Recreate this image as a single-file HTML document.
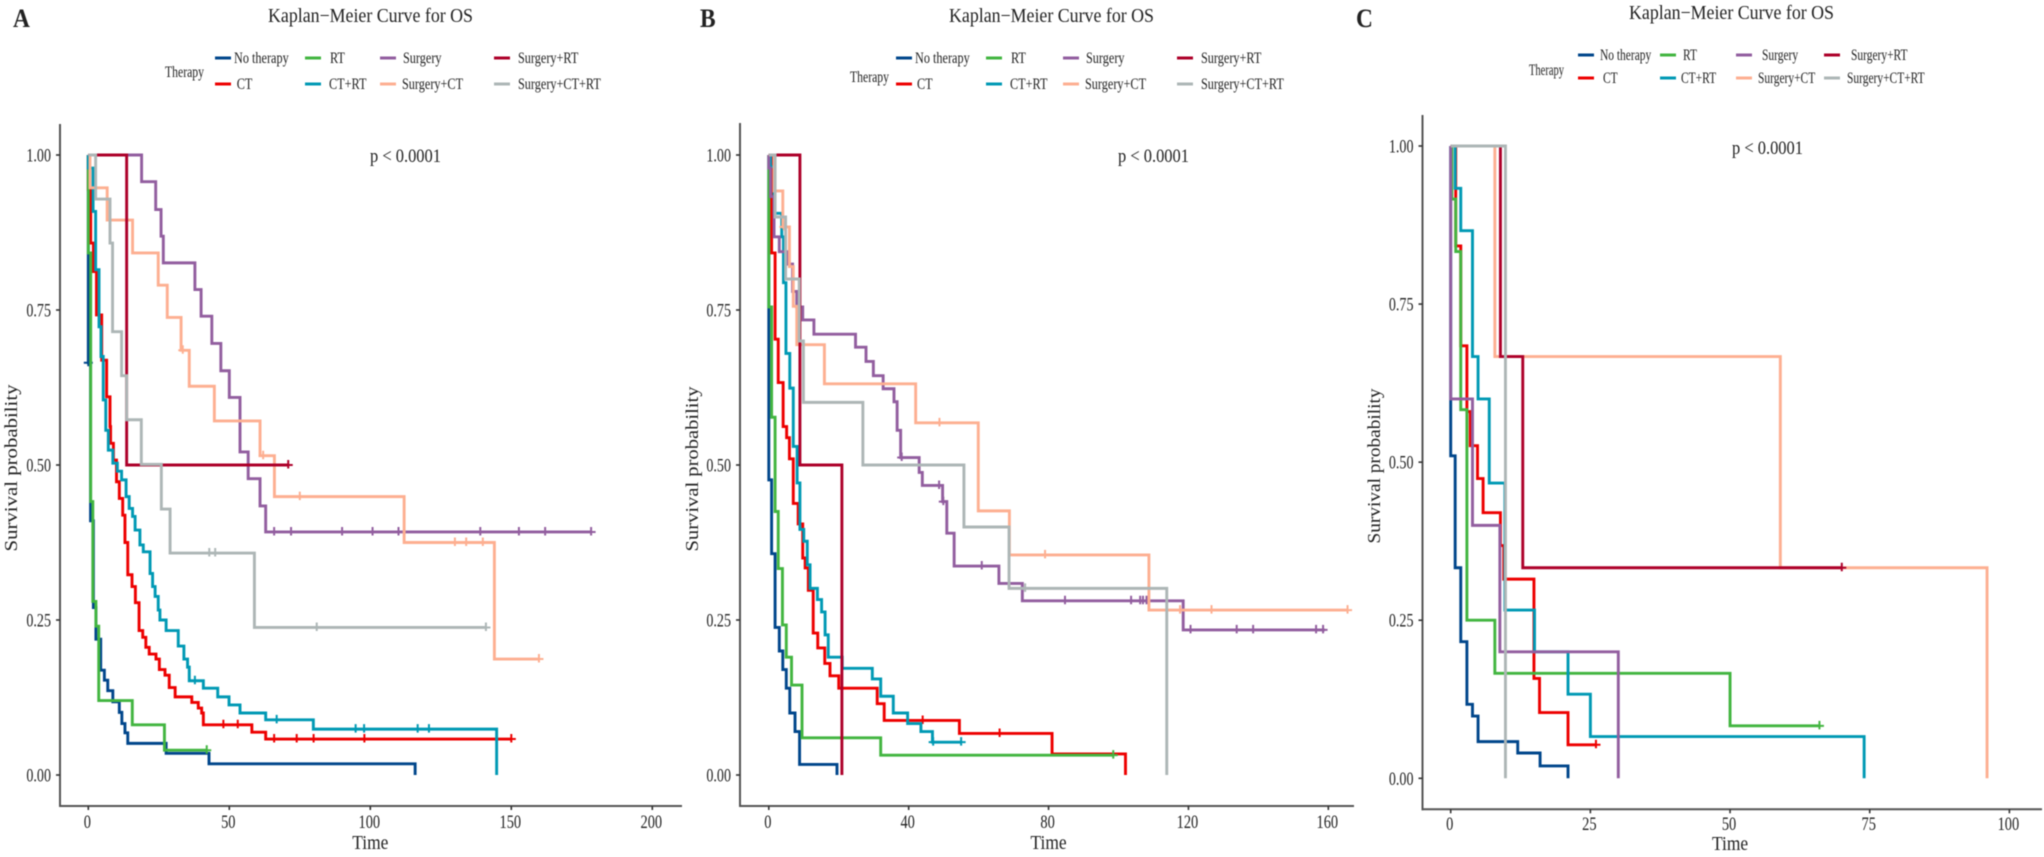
<!DOCTYPE html>
<html lang="en">
<head>
<meta charset="utf-8">
<title>Kaplan-Meier Curves for OS</title>
<style>
html,body{margin:0;padding:0;background:#fff;width:2044px;height:857px;overflow:hidden}
svg{display:block;filter:blur(0.6px)}
text{font-family:"Liberation Serif","Noto Serif CJK SC",serif;fill:#222}
</style>
</head>
<body>
<svg id="figure" xmlns="http://www.w3.org/2000/svg" width="2044" height="857" viewBox="0 0 2044 857"></svg>
<script>
/* ---------- shared labels ---------- */
const therapyLabels = ['No therapy','CT','RT','CT+RT','Surgery','Surgery+CT','Surgery+RT','Surgery+CT+RT'];
const therapyColors = ['#00468B','#ED0000','#42B540','#0099B4','#925E9F','#FDAF91','#AD002A','#ADB6B6'];
const yTickLabels = ['0.00','0.25','0.50','0.75','1.00'];
const yTickValues = [0,0.25,0.5,0.75,1];
const xTicksA = [0,50,100,150,200];
const xTicksB = [0,40,80,120,160];
const xTicksC = [0,25,50,75,100];

/* ---------- panel A ---------- */
const aNoTherapyT = [0,.8,1.8,2.7,4.4,5.7,6.9,8.7,11,11.9,13,14,27.6,42.8,115.9];
const aNoTherapyS = [.665,.41,.27,.219,.169,.153,.136,.118,.101,.083,.068,.051,.035,.018,0];
const aNoTherapyC = [0];
const aCtT = [0,.85,1.8,2.9,4.75,6.5,7.7,7.9,8.9,10,11,12.2,13,14,15.5,16.7,18,19.3,20.4,21.6,24,25.2,27.2,28.7,30.8,36.7,39,40.2,40.8,58,62.9,150];
const aCtS = [.944,.858,.812,.742,.669,.61,.562,.535,.508,.473,.446,.419,.375,.323,.304,.278,.233,.222,.206,.195,.187,.17,.161,.141,.126,.117,.108,.10,.081,.069,.058,.058];
const aCtC = [47.9,53,65.9,73.9,79.9,97.9,150];
const aRtT = [0,.85,1.6,2.7,3.7,15.6,27,42];
const aRtS = [.842,.441,.28,.24,.12,.081,.04,.04];
const aRtC = [42];
const aCtRtT = [0,1.7,2.6,3.8,4.5,5.3,6.2,7.1,8.7,10.3,11.8,13.4,14.5,15.7,16.6,18.3,19.5,21.9,22.8,23.7,24.8,25.4,27.6,31.9,33.9,35.2,35.8,40.8,45.9,49.9,53.8,62.9,79.8,144.8];
const aCtRtS = [.979,.909,.815,.723,.675,.605,.556,.524,.503,.49,.476,.449,.43,.417,.395,.371,.36,.325,.304,.288,.266,.25,.233,.208,.187,.174,.152,.14,.126,.113,.10,.089,.074,0];
const aCtRtC = [37.8,66.8,94.8,97.8,116.8,120.8];
const aSurgeryT = [18.9,23.9,25.8,26.6,37.8,40,43.8,47,50,53.8,56.7,60.9,62.9,178.3];
const aSurgeryS = [.957,.912,.869,.826,.783,.74,.696,.652,.609,.521,.478,.434,.392,.392];
const aSurgeryC = [65.9,71.9,90,100.8,110,139,152.7,162,178.3];
const aSurgCtT = [.6,6.7,15.7,24.8,28,32.9,35.8,44.7,60.9,66,112,144,159.8];
const aSurgCtS = [.947,.895,.842,.79,.738,.685,.627,.571,.515,.449,.375,.187,.187];
const aSurgCtC = [33.5,62,75,130,134,139.9,159.8];
const aSurgRtT = [13.6,70.9];
const aSurgRtS = [.5,.5];
const aSurgRtC = [70.9];
const aSurgCtRtT = [2.6,7.7,8.6,11.8,13.6,18.8,25.9,29,58.9,141];
const aSurgCtRtS = [.929,.858,.715,.644,.573,.501,.429,.358,.238,.238];
const aSurgCtRtC = [42.9,45,81,141];

/* ---------- panel B ---------- */
const bNoTherapyT = [0,.8,1.8,3,4,5,6,7.5,8.8,19.5];
const bNoTherapyS = [.476,.357,.238,.20,.17,.14,.10,.07,.017,0];
const bNoTherapyC = [];
const bCtT = [.8,1.8,2.7,4.1,5.1,5.9,7,8.4,9.7,10.4,11.3,12.7,14,16,17.5,20,31,33,54.5,81,102];
const bCtS = [.842,.703,.633,.562,.544,.51,.438,.405,.35,.334,.298,.229,.205,.18,.16,.14,.115,.088,.067,.034,0];
const bCtC = [44,66];
const bRtT = [0,.8,1.8,2.7,3.9,5,6.5,9.5,32,98.5];
const bRtS = [.755,.577,.425,.333,.242,.19,.145,.06,.032,.032];
const bRtC = [98.5];
const bCtRtT = [.5,1.5,3.7,4.2,4.9,6,7,8.1,8.9,10,11,11.8,13.9,15.1,16.1,17,21,29.6,32,35.6,39.7,43.5,46.8,55];
const bCtRtS = [.981,.906,.868,.794,.68,.624,.53,.471,.396,.377,.339,.301,.283,.263,.226,.19,.172,.155,.127,.10,.083,.07,.053,.053];
const bCtRtC = [47,55];
const bSurgeryT = [0,.5,1.5,3,5.6,6.8,8,9.7,12.9,24.8,27.8,29.9,32.7,35.8,36.7,37.7,43,43.9,49.7,50.9,53,65.8,72.5,118.5,159];
const bSurgeryS = [.979,.933,.868,.844,.824,.78,.755,.734,.711,.69,.667,.644,.623,.602,.556,.512,.488,.467,.441,.39,.337,.309,.281,.234,.234];
const bSurgeryC = [38,48.7,49.9,60.9,84.7,103.6,106.2,107,108,120.6,133.8,138.5,156.5,158.5];
const bSurgCtT = [1.5,4,5.9,7,8,15.9,42,59.9,68.8,108.7,165.5];
const bSurgCtS = [.942,.884,.82,.756,.694,.631,.568,.426,.355,.266,.266];
const bSurgCtC = [4.3,48.8,79,117.6,126.6,165.5];
const bSurgRtT = [8.9,20.9];
const bSurgRtS = [.5,0];
const bSurgRtC = [];
const bSurgCtRtT = [1.8,4.8,8.7,9.9,26.9,55.8,68.7,113.8];
const bSurgCtRtS = [.9,.8,.7,.601,.5,.4,.301,0];
const bSurgCtRtC = [73.3];

/* ---------- panel C ---------- */
const cNoTherapyT = [0,.8,1.8,2.9,3.9,4.9,12,16,21];
const cNoTherapyS = [.51,.333,.216,.117,.0985,.058,.04,.0195,0];
const cNoTherapyC = [];
const cCtT = [.9,1.8,2.9,3.5,4.8,5.8,8.9,9.5,14.9,15.9,21,26];
const cCtS = [.842,.684,.58,.526,.474,.42,.368,.315,.158,.104,.053,.053];
const cCtC = [26];
const cRtT = [.2,.9,1.8,2.9,7.9,50,66];
const cRtS = [.916,.833,.583,.25,.166,.083,.083];
const cRtC = [66];
const cCtRtT = [.8,1.8,3.9,4.9,6.9,9.7,15,21,25,74];
const cCtRtS = [.933,.866,.667,.6,.467,.266,.2,.133,.066,0];
const cCtRtC = [];
const cSurgeryT = [0,3.9,8.8,30];
const cSurgeryS = [.6,.4,.2,0];
const cSurgeryC = [];
const cSurgCtT = [7.9,59,96];
const cSurgCtS = [.667,.333,0];
const cSurgCtC = [];
const cSurgRtT = [8.9,12.9,70];
const cSurgRtS = [.667,.333,.333];
const cSurgRtC = [70];
const cSurgCtRtT = [9.8];
const cSurgCtRtS = [0];
const cSurgCtRtC = [];

/* ---------- drawing ---------- */
const NS = 'http://www.w3.org/2000/svg';
const root = document.getElementById('figure');

function slug(s){ return s.toLowerCase().replace(/\+/g,'-plus-').replace(/\s+/g,'-'); }

function addText(parent, name, x, y, str, size, anchor, sx, width){
  const el = document.createElementNS(NS,'text');
  
  
  el.setAttribute('font-size', size);
  el.setAttribute('text-anchor', anchor);
  if (width) {
    el.setAttribute('x', x);
    el.setAttribute('y', y);
    el.setAttribute('textLength', width);
    el.setAttribute('lengthAdjust', 'spacingAndGlyphs');
  } else {
    el.setAttribute('transform', 'translate(' + x + ',' + y + ') scale(' + sx + ',1)');
  }
  el.textContent = str;
  parent.appendChild(el);
  return el;
}

function addLine(parent, name, x1, y1, x2, y2, color, w){
  const el = document.createElementNS(NS,'line');
  
  
  el.setAttribute('x1', x1);
  el.setAttribute('y1', y1);
  el.setAttribute('x2', x2);
  el.setAttribute('y2', y2);
  el.setAttribute('stroke', color);
  el.setAttribute('stroke-width', w);
  parent.appendChild(el);
  return el;
}

function survivalAt(times, surv, t){
  let s = 1;
  for (let i = 0; i < times.length; i++) { if (times[i] <= t) s = surv[i]; }
  return s;
}

function drawPanel(p){
  const g = document.createElementNS(NS,'g');
  
  
  root.appendChild(g);

  const xAxis = v => p.x0 + v * p.xScale;
  const yAxis = v => p.y0 - v * p.yScale;

  /* axes */
  addLine(g, 'y-axis-line', p.axisX, p.axisTop, p.axisX, p.axisBottom + 1, '#555', 2);
  addLine(g, 'x-axis-line', p.axisX - 1, p.axisBottom, p.axisRight, p.axisBottom, '#555', 2);
  yTickValues.forEach((v, i) => {
    addLine(g, 'y-tick', p.axisX - 4, yAxis(v), p.axisX, yAxis(v), '#333', 1.6);
    addText(g, 'y-tick-label', p.axisX - 9, yAxis(v) + 6.5, yTickLabels[i], 18.5, 'end', 0.76);
  });
  p.xTicks.forEach(v => {
    addLine(g, 'x-tick', xAxis(v), p.axisBottom, xAxis(v), p.axisBottom + 4, '#333', 1.6);
    addText(g, 'x-tick-label', xAxis(v) - 1, p.tickBase, String(v), 18.5, 'middle', 0.78);
  });

  /* curves */
  p.series.forEach((s, i) => {
    let d = 'M' + xAxis(0) + ' ' + yAxis(1);
    s.t.forEach((t, k) => {
      d += 'H' + xAxis(t).toFixed(2) + 'V' + yAxis(s.s[k]).toFixed(2);
    });
    const path = document.createElementNS(NS,'path');
    
    
    path.setAttribute('d', d);
    path.setAttribute('fill', 'none');
    path.setAttribute('stroke', therapyColors[i]);
    path.setAttribute('stroke-width', 2.9);
    path.setAttribute('stroke-linejoin', 'miter');
    g.appendChild(path);
    s.c.forEach(t => {
      const cx = xAxis(t);
      const cy = yAxis(survivalAt(s.t, s.s, t));
      const mark = document.createElementNS(NS,'path');
      
      
      mark.setAttribute('d', 'M' + (cx - 4.5) + ' ' + cy + 'H' + (cx + 4.5) + 'M' + cx + ' ' + (cy - 5) + 'V' + (cy + 3.5));
      mark.setAttribute('stroke', therapyColors[i]);
      mark.setAttribute('stroke-width', 2);
      mark.setAttribute('fill', 'none');
      g.appendChild(mark);
    });
  });

  /* text */
  addText(g, 'panel-letter', p.letterX, 27, p.id, 26, 'start', 0.9).setAttribute('font-weight', 'bold');
  addText(g, 'chart-title', p.titleX, p.titleY, 'Kaplan\u2212Meier Curve for OS', 20, 'start', 1, 205);
  addText(g, 'p-value', p.pX, p.pY, 'p < 0.0001', 19, 'start', 1, p.pW);
  addText(g, 'x-axis-title', xAxis(p.timeCenter), p.timeBase, 'Time', 20.5, 'middle', 0.85);
  const yl = addText(g, 'y-axis-title', 0, 0, 'Survival probability', 20.5, 'middle', 1, p.ylabelLen);
  yl.setAttribute('transform', 'translate(' + p.ylabelX + ',' + p.ylabelY + ') rotate(-90) scale(1,0.85)');

  /* legend */
  const lg = document.createElementNS(NS,'g');
  
  
  g.appendChild(lg);
  addText(lg, 'legend-title', p.legend.titleX, p.legend.titleY, 'Therapy', 15.5, 'start', 1, p.legend.titleW);
  therapyLabels.forEach((name, i) => {
    const pos = p.legend.items[i];
    const rowY = p.legend.rows[pos[0]];
    addLine(lg, 'legend-key-' + slug(name), pos[1], rowY, pos[1] + p.legend.keyW, rowY, therapyColors[i], 3);
    addText(lg, 'legend-label-' + slug(name), pos[2], rowY + 5, name, 15.5, 'start', p.legend.sx);
  });
}

drawPanel({
  id:'A', x0:88.3, xScale:2.82, y0:775, yScale:620,
  axisX:60, axisTop:124, axisBottom:806, axisRight:682,
  xTicks:xTicksA, tickBase:828, timeBase:849, timeCenter:100,
  letterX:13, titleX:268, titleY:22, pX:370, pY:162, pW:71,
  ylabelX:17, ylabelY:468, ylabelLen:167,
  legend:{titleX:165,titleY:77,titleW:39,rows:[58,84],keyW:16,sx:0.79,
    items:[[0,215,234],[1,215,236.7],[0,305,330],[1,305,329],[0,380,403],[1,380,402],[0,494,518],[1,494,518]]},
  series:[
    {t:aNoTherapyT,s:aNoTherapyS,c:aNoTherapyC},
    {t:aCtT,s:aCtS,c:aCtC},
    {t:aRtT,s:aRtS,c:aRtC},
    {t:aCtRtT,s:aCtRtS,c:aCtRtC},
    {t:aSurgeryT,s:aSurgeryS,c:aSurgeryC},
    {t:aSurgCtT,s:aSurgCtS,c:aSurgCtC},
    {t:aSurgRtT,s:aSurgRtS,c:aSurgRtC},
    {t:aSurgCtRtT,s:aSurgCtRtS,c:aSurgCtRtC}
  ]
});

drawPanel({
  id:'B', x0:768.8, xScale:3.497, y0:775, yScale:620,
  axisX:740, axisTop:123, axisBottom:806, axisRight:1354,
  xTicks:xTicksB, tickBase:828, timeBase:849, timeCenter:80,
  letterX:700, titleX:949, titleY:22, pX:1118, pY:162, pW:71,
  ylabelX:698, ylabelY:469, ylabelLen:165,
  legend:{titleX:850,titleY:82,titleW:39,rows:[58,84],keyW:16,sx:0.79,
    items:[[0,896,915],[1,896,917],[0,986,1011],[1,986,1010],[0,1063,1086],[1,1063,1085],[0,1177,1201],[1,1177,1201]]},
  series:[
    {t:bNoTherapyT,s:bNoTherapyS,c:bNoTherapyC},
    {t:bCtT,s:bCtS,c:bCtC},
    {t:bRtT,s:bRtS,c:bRtC},
    {t:bCtRtT,s:bCtRtS,c:bCtRtC},
    {t:bSurgeryT,s:bSurgeryS,c:bSurgeryC},
    {t:bSurgCtT,s:bSurgCtS,c:bSurgCtC},
    {t:bSurgRtT,s:bSurgRtS,c:bSurgRtC},
    {t:bSurgCtRtT,s:bSurgCtRtS,c:bSurgCtRtC}
  ]
});

drawPanel({
  id:'C', x0:1450.7, xScale:5.587, y0:778.3, yScale:632.3,
  axisX:1422.5, axisTop:115, axisBottom:809.3, axisRight:2042,
  xTicks:xTicksC, tickBase:830, timeBase:850, timeCenter:50,
  letterX:1356, titleX:1629, titleY:19, pX:1732, pY:154, pW:71,
  ylabelX:1380, ylabelY:466, ylabelLen:155,
  legend:{titleX:1529,titleY:75,titleW:35,rows:[55,78],keyW:16,sx:0.74,
    items:[[0,1578,1600],[1,1578,1603],[0,1660,1683],[1,1660,1681],[0,1736,1762],[1,1736,1758],[0,1824,1851],[1,1824,1847]]},
  series:[
    {t:cNoTherapyT,s:cNoTherapyS,c:cNoTherapyC},
    {t:cCtT,s:cCtS,c:cCtC},
    {t:cRtT,s:cRtS,c:cRtC},
    {t:cCtRtT,s:cCtRtS,c:cCtRtC},
    {t:cSurgeryT,s:cSurgeryS,c:cSurgeryC},
    {t:cSurgCtT,s:cSurgCtS,c:cSurgCtC},
    {t:cSurgRtT,s:cSurgRtS,c:cSurgRtC},
    {t:cSurgCtRtT,s:cSurgCtRtS,c:cSurgCtRtC}
  ]
});
</script>
</body>
</html>
